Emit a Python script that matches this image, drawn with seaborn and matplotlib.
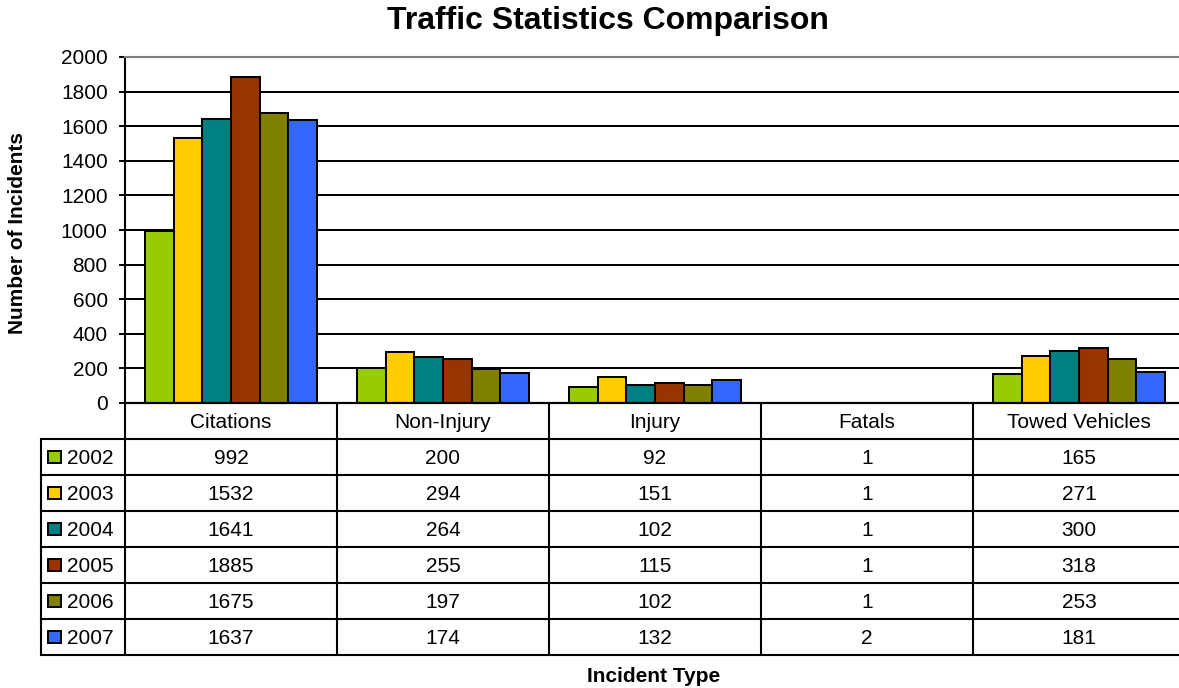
import pandas as pd
import matplotlib.pyplot as plt
import seaborn as sns
from matplotlib.patches import Rectangle

# chart data
incident_types = ['Citations', 'Non-Injury', 'Injury', 'Fatals', 'Towed Vehicles']
years = ['2002', '2003', '2004', '2005', '2006', '2007']
counts_2002 = [992, 200, 92, 1, 165]
counts_2003 = [1532, 294, 151, 1, 271]
counts_2004 = [1641, 264, 102, 1, 300]
counts_2005 = [1885, 255, 115, 1, 318]
counts_2006 = [1675, 197, 102, 1, 253]
counts_2007 = [1637, 174, 132, 2, 181]
year_colors = ['#99CC00', '#FFCC00', '#008080', '#993300', '#808000', '#3366FF']
y_ticks = list(range(0, 2001, 200))

counts = dict(zip(years, [counts_2002, counts_2003, counts_2004,
                          counts_2005, counts_2006, counts_2007]))

# long format for seaborn
rows = []
for yr in years:
    for t, v in zip(incident_types, counts[yr]):
        rows.append({'Incident Type': t, 'Incidents': v, 'Year': yr})
df = pd.DataFrame(rows)

sns.set_theme(style='white')
plt.rcParams['font.family'] = ['Liberation Sans', 'DejaVu Sans']

W, H = 1179, 688
fig = plt.figure(figsize=(W / 100, H / 100), dpi=100)


def fx(px):
    return px / W


def fy(py):
    return 1 - py / H


# main bar chart
ax = fig.add_axes([fx(125), fy(403), fx(1185) - fx(125), fy(57) - fy(403)])
sns.barplot(data=df, x='Incident Type', y='Incidents', hue='Year',
            order=incident_types, hue_order=years, palette=year_colors,
            saturation=1, width=0.807, edgecolor='black', linewidth=1.45,
            legend=False, ax=ax)
ax.set_xlim(-0.5, len(incident_types) - 0.5)
ax.set_ylim(0, 2000)
ax.set_yticks(y_ticks)
ax.yaxis.grid(True, color='black', linewidth=1.45)
ax.set_axisbelow(True)
ax.tick_params(axis='y', left=True, length=4.5, width=1.4, color='black',
               pad=8, labelsize=15, labelcolor='black')
ax.tick_params(axis='x', bottom=False, labelbottom=False)
ax.set_xlabel('')
ax.set_ylabel('')
for side in ['left', 'bottom']:
    ax.spines[side].set_color('black')
    ax.spines[side].set_linewidth(1.5)
ax.spines['top'].set_color('#808080')
ax.spines['top'].set_linewidth(1.5)
ax.spines['right'].set_visible(False)

# data table underneath, columns share the category axis
n_rows = len(years) + 1
tab = fig.add_axes([fx(125), fy(655), fx(1185) - fx(125), fy(403) - fy(655)])
tab.set_xlim(-0.5, len(incident_types) - 0.5)
tab.set_ylim(n_rows, 0)
tab.axis('off')

leg_left = -0.5 + (41 - 125) / 212
lw = 1.5
for r in range(n_rows + 1):
    x0 = -0.5 if r == 0 else leg_left
    tab.plot([x0, len(incident_types) - 0.5], [r, r], color='black', lw=lw,
             clip_on=False, solid_capstyle='projecting')
for c in range(len(incident_types) + 1):
    tab.plot([c - 0.5, c - 0.5], [0, n_rows], color='black', lw=lw, clip_on=False)
tab.plot([leg_left, leg_left], [1, n_rows], color='black', lw=lw, clip_on=False)

for i, name in enumerate(incident_types):
    tab.text(i, 0.5, name, ha='center', va='center_baseline', fontsize=15,
             color='black')

mk_left = -0.5 + (48 - 125) / 212
mk_w = 13 / 212
txt_left = -0.5 + (67 - 125) / 212
for r, (yr, col) in enumerate(zip(years, year_colors), start=1):
    tab.add_patch(Rectangle((mk_left, r + 0.5 - 0.18), mk_w, 0.36,
                            facecolor=col, edgecolor='black', lw=1.4,
                            clip_on=False))
    tab.text(txt_left, r + 0.5, yr, ha='left', va='center_baseline',
             fontsize=15, color='black')
    for i, v in enumerate(counts[yr]):
        tab.text(i, r + 0.5, str(v), ha='center', va='center_baseline',
                 fontsize=15, color='black')

# titles
fig.text(fx(608), fy(21), 'Traffic Statistics Comparison', ha='center',
         va='center', fontsize=23, fontweight='bold', color='black')
fig.text(fx(18), fy(233), 'Number of Incidents', ha='center', va='center',
         rotation=90, fontsize=15, fontweight='bold', color='black')
fig.text(fx(654), fy(677), 'Incident Type', ha='center', va='center',
         fontsize=15, fontweight='bold', color='black')

fig.savefig('out.png', dpi=100, facecolor='white')
